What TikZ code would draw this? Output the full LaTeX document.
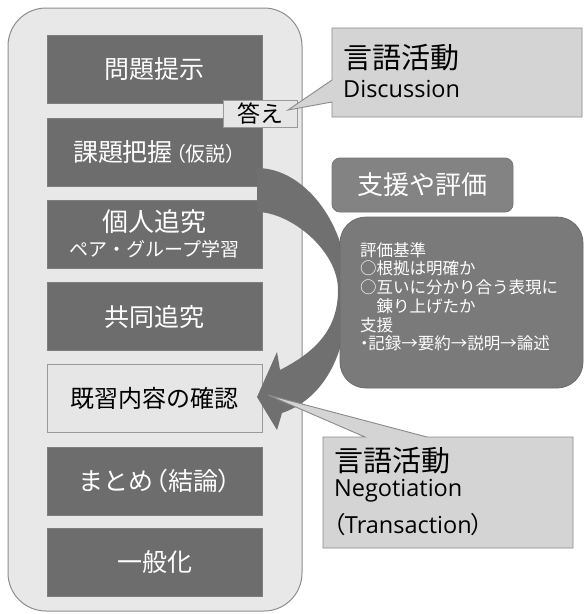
\documentclass[tikz,border=0pt]{standalone}
\usepackage{fontspec}
\setmainfont{Noto Sans CJK JP}
\newfontfamily\paltfont[RawFeature={+palt}]{Noto Sans CJK JP}
\newfontfamily\latinfont{Open Sans}
\definecolor{outerfill}{HTML}{E8E8E8}
\definecolor{outeredge}{HTML}{8E8E8E}
\definecolor{boxgray}{HTML}{6D6D6D}
\definecolor{boxedge}{HTML}{7E7E7E}
\definecolor{lightbox}{HTML}{E6E6E6}
\definecolor{lightedge}{HTML}{9A9A9A}
\definecolor{calloutfill}{HTML}{D4D4D4}
\definecolor{calloutedge}{HTML}{8A8A8A}
\definecolor{supportfill}{HTML}{838383}
\definecolor{supportedge}{HTML}{757575}
\definecolor{critfill}{HTML}{7A7A7A}
\definecolor{critedge}{HTML}{6A6A6A}
\definecolor{arrowgray}{HTML}{707070}
\begin{document}
\begin{tikzpicture}[x=1pt,y=-1pt,
  darkbox/.style={fill=boxgray, draw=boxedge, line width=0.8pt, minimum width=215pt, minimum height=68pt, inner sep=0pt, text=white, font=\fontsize{25}{29}\selectfont, align=center},
  lightstep/.style={darkbox, fill=lightbox, draw=lightedge, text=black, font=\fontsize{24}{28}\selectfont},
  calloutshape/.style={fill=calloutfill, draw=calloutedge, line width=0.9pt},
  bigtext/.style={anchor=west, inner sep=0pt, font=\fontsize{29}{32}\selectfont},
  subtext/.style={anchor=west, inner sep=0pt, font=\latinfont\fontsize{23.5}{28}\selectfont},
  crittext/.style={anchor=west, inner sep=0pt, text=white, font=\fontsize{16.5}{19}\selectfont}
]
\useasboundingbox (0,0) rectangle (584,614);
% outer container
\filldraw[fill=outerfill, draw=outeredge, line width=1pt, rounded corners=38pt] (8,8) rectangle (302,611);
% steps
\node[darkbox] (s1) at (154.5,69) {問題提示};
\node[darkbox] (s2) at (154.5,152) {課題把握\hspace{3pt}{\paltfont\fontsize{20}{24}\selectfont （仮説）}};
\node[darkbox] (s3) at (154.5,234) {\fontsize{26}{28}\selectfont 個人追究\\[-4pt]{\fontsize{19}{22}\selectfont ペア・グループ学習}};
\node[darkbox] (s4) at (154.5,316.5) {共同追究};
\node[lightstep] (s5) at (154.5,398) {既習内容の確認};
\node[darkbox] (s6) at (154.5,481) {まとめ\hspace{2pt}{\paltfont （結論）}};
\node[darkbox] (s7) at (154.5,562.5) {一般化};
% answer tag
\node[fill=lightbox, draw=lightedge, line width=0.8pt, minimum width=74pt, minimum height=27pt, inner sep=0pt, font=\fontsize{23}{26}\selectfont] (ans) at (260,113.5) {答え};
% curved arrow
\fill[arrowgray] (257,168) .. controls (305,168) and (348,225) .. (348,290)
  .. controls (348,360) and (320,400) .. (282,413)
  -- (277,430) -- (257,397) -- (277,352) -- (280,370)
  .. controls (315,352) and (338,330) .. (338,290)
  .. controls (338,250) and (290,212) .. (257,212) -- cycle;
% callout 1
\coordinate (c1tip) at (288,110);
\filldraw[calloutshape] (332,28) -- (582,28) -- (582,117) -- (332,117) -- (332,102) -- (c1tip) -- (332,80) -- cycle;
\node[bigtext] (c1a) at (343,58) {言語活動};
\node[subtext] (c1b) at (343,89) {Discussion};
% support box
\node[fill=supportfill, draw=supportedge, line width=0.8pt, rounded corners=8pt, minimum width=181pt, minimum height=54pt, inner sep=0pt, text=white, font=\fontsize{26}{30}\selectfont] (sup) at (422.5,185) {支援や評価};
% criteria box
\filldraw[fill=critfill, draw=critedge, line width=0.8pt, rounded corners=26pt] (340,217) rectangle (583,388);
\node[crittext] (t1) at (360,250) {評価基準};
\node[crittext] (t2) at (360,268.5) {○根拠は明確か};
\node[crittext] (t3) at (360,287.5) {○互いに分かり合う表現に};
\node[crittext] (t4) at (360,306.5) {　錬り上げたか};
\node[crittext] (t5) at (360,325) {支援};
\node[crittext] (t6) at (360,343.5) {{\paltfont ・}記録→要約→説明→論述};
% callout 2
\coordinate (c2tip) at (268,395);
\filldraw[calloutshape] (323,437) -- (365,437) -- (c2tip) -- (427,437) -- (573,437) -- (573,548) -- (323,548) -- cycle;
\node[bigtext] (c2a) at (334,461) {言語活動};
\node[subtext] (c2b) at (334,491) {Negotiation};
\node[subtext] (c2c) at (333,525) {{\paltfont （}Transaction{\paltfont ）}};
\end{tikzpicture}
\end{document}
